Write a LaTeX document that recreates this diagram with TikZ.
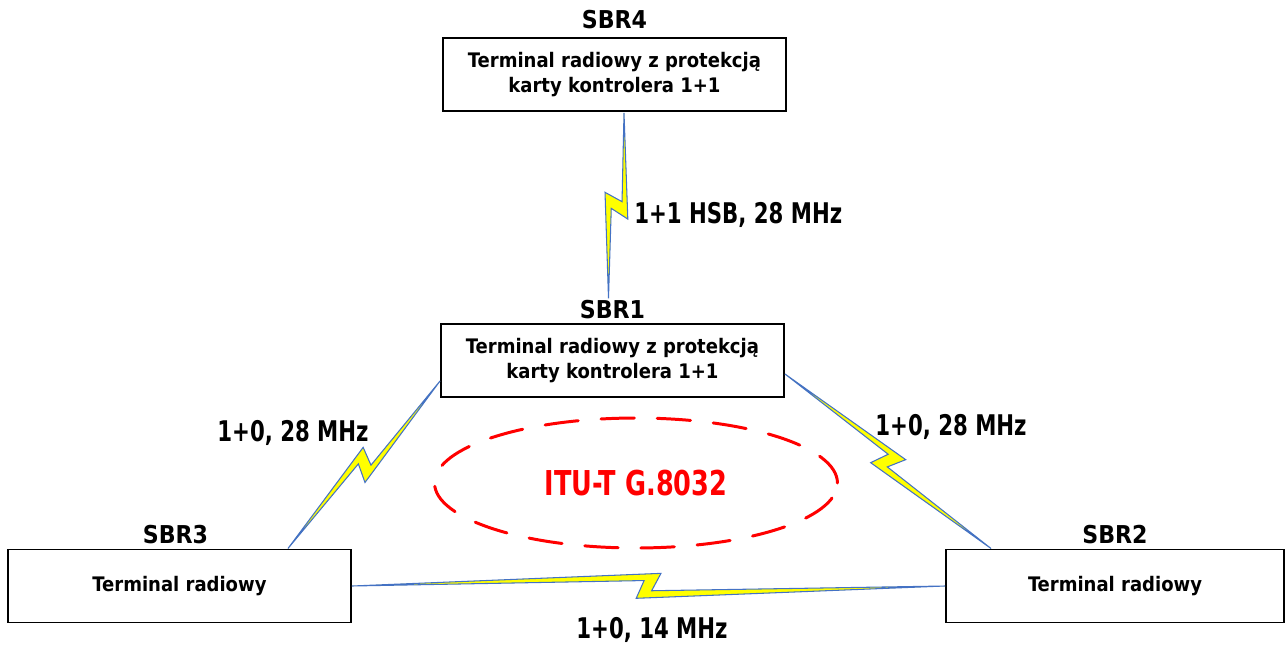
\documentclass[tikz,border=0pt]{standalone}
\usepackage{fontspec}
\setmainfont{DejaVu Sans Condensed}
\newfontfamily\narrowfont[FakeStretch=0.83]{DejaVu Sans Condensed}
\usetikzlibrary{positioning,calc,shapes.geometric}
\definecolor{linkblue}{RGB}{68,114,196}
\definecolor{boltyellow}{RGB}{255,255,0}
\definecolor{ringred}{RGB}{255,0,0}

\begin{document}
\begin{tikzpicture}[x=0.02cm,y=-0.02cm,
  box/.style={draw,line width=1.1pt,minimum width=6.86cm,minimum height=1.46cm,
    align=center,font=\fontsize{11.4}{14.2}\selectfont\bfseries},
  tag/.style={inner sep=0pt,font=\fontsize{14}{16}\selectfont\bfseries},
  linklabel/.style={inner sep=0pt,font=\narrowfont\fontsize{16.2}{18}\selectfont\bfseries},
  bolt/.style={draw=linkblue,line width=0.6pt,fill=boltyellow,line join=miter}]
\useasboundingbox (0,0) rectangle (1286,646);
% stations
\node[box] (sbr4) at (614.5,74.5) {Terminal radiowy z protekcją\\karty kontrolera 1+1};
\node[box] (sbr1) at (612.5,360.5) {Terminal radiowy z protekcją\\karty kontrolera 1+1};
\node[box] (sbr3) at (179.5,586) {Terminal radiowy};
\node[box,minimum width=6.76cm] (sbr2) at (1115,586) {Terminal radiowy};
\node[tag,above=0.15cm of sbr4] (t4) {SBR4};
\node[tag,above=0.07cm of sbr1] (t1) {SBR1};
\node[tag,above=0.08cm of sbr3,xshift=-0.08cm] (t3) {SBR3};
\node[tag,above=0.08cm of sbr2] (t2) {SBR2};
% ring protection
\node[ellipse,draw=ringred,line width=1.7pt,dash pattern=on 19pt off 13pt,line cap=round,
  minimum width=8.06cm,minimum height=2.6cm,text=ringred,
  font=\narrowfont\fontsize{19.5}{22}\selectfont\bfseries] (ring) at (636,483) {ITU-T G.8032};
% link end points
\coordinate (p4) at ($(sbr4.south)+(9.5,1)$);
\coordinate (p1) at ($(t1.north)+(-4,-2)$);
\coordinate (q1) at ($(sbr1.south west)+(0,-17)$);
\coordinate (q3) at ($(sbr3.north east)+(-64,0)$);
\coordinate (r1) at ($(sbr1.south east)+(0,-24)$);
\coordinate (r2) at ($(sbr2.north west)+(46,0)$);
\coordinate (s3) at (sbr3.east);
\coordinate (s2) at (sbr2.west);
% radio links
\foreach \a/\b in {p4/p1,q1/q3,r1/r2,s3/s2}{
  \draw[bolt] (\a)
    -- ($(\a)!.5!(\b)!7.1pt!(\b)!7.2pt!90:(\b)$)
    -- ($(\a)!.5!(\b)!1.8pt!(\b)!-2.7pt!90:(\b)$)
    -- (\b)
    -- ($(\a)!.5!(\b)!-7pt!(\b)!-7pt!90:(\b)$)
    -- ($(\a)!.5!(\b)!-2.5pt!(\b)!3.1pt!90:(\b)$)
    -- cycle;
}
\node[linklabel,anchor=west] (l41) at (634,215) {1+1 HSB, 28 MHz};
\node[linklabel] (l13) at (293,433) {1+0, 28 MHz};
\node[linklabel] (l12) at (951,427) {1+0, 28 MHz};
\node[linklabel] (l32) at (652,630) {1+0, 14 MHz};
\end{tikzpicture}
\end{document}
